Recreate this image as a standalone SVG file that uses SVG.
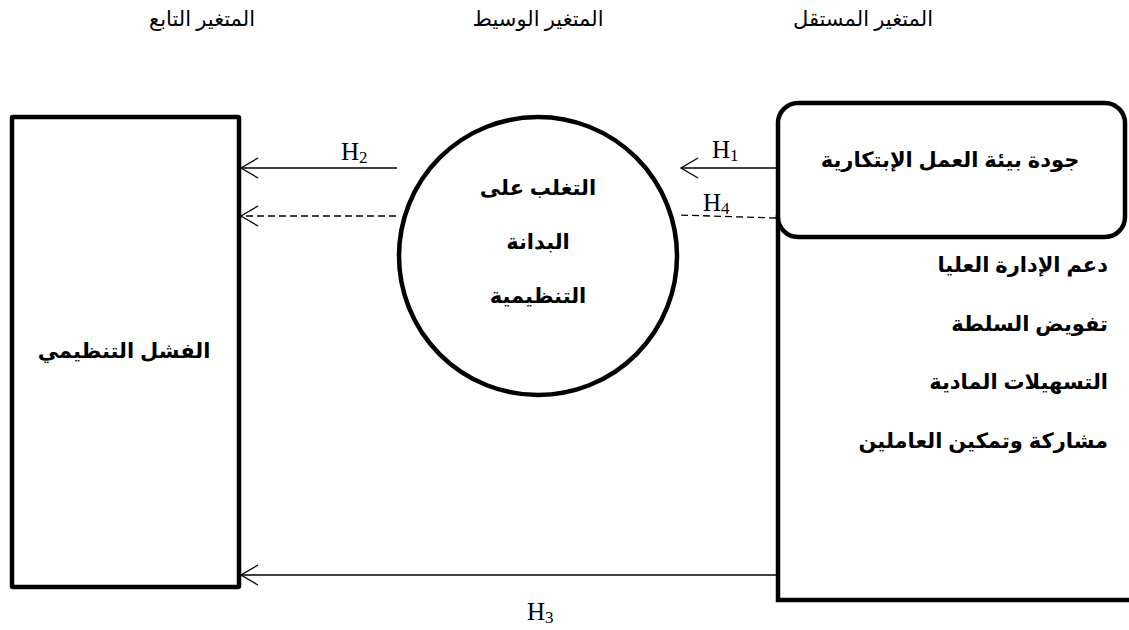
<svg xmlns="http://www.w3.org/2000/svg" width="1129" height="630" viewBox="0 0 1129 630">
<style>
.box{fill:#fff;stroke:#000;stroke-width:4.5}
.lbl{font-family:"Liberation Sans","DejaVu Sans",sans-serif;font-weight:bold;font-size:21px;fill:#000}
.hdr{font-family:"Liberation Serif","DejaVu Sans",serif;font-size:21px;fill:#000}
.h{font-family:"Liberation Serif",serif;font-size:25px;fill:#000}
.sub{font-size:17px}
.ln{stroke:#000;stroke-width:1.3;fill:none}
.dash{stroke-dasharray:7,4}
</style>
<defs>
<marker id="open" viewBox="0 0 20 24" refX="18" refY="12" markerWidth="20" markerHeight="24" markerUnits="userSpaceOnUse" orient="auto">
<path d="M1,2 L18,12 L1,22" fill="none" stroke="#000" stroke-width="1.3"/>
</marker>
</defs>
<g id="headers">
<text class="hdr" x="202" y="26" text-anchor="middle">المتغير التابع</text>
<text class="hdr" x="538" y="26" text-anchor="middle">المتغير الوسيط</text>
<text class="hdr" x="863" y="26" text-anchor="middle">المتغير المستقل</text>
</g>
<g id="dependent">
<rect class="box" x="12" y="117" width="227" height="470" rx="1"/>
<text class="lbl" x="124" y="358" text-anchor="middle">الفشل التنظيمي</text>
</g>
<g id="mediator">
<circle class="box" cx="538" cy="256" r="139" stroke-width="5"/>
<text class="lbl" x="538" y="195" text-anchor="middle">التغلب على</text>
<text class="lbl" x="538" y="249" text-anchor="middle">البدانة</text>
<text class="lbl" x="538" y="303" text-anchor="middle">التنظيمية</text>
</g>
<g id="independent">
<path class="box" fill="none" d="M778,215 V600 H1135"/>
<rect class="box" x="778" y="103" width="347" height="134" rx="20"/>
<text class="lbl" x="950" y="167" text-anchor="middle" font-size="22">جودة بيئة العمل الإبتكارية</text>
<text class="lbl" x="1108" y="272" text-anchor="end">دعم الإدارة العليا</text>
<text class="lbl" x="1108" y="331" text-anchor="end">تفويض السلطة</text>
<text class="lbl" x="1108" y="389" text-anchor="end">التسهيلات المادية</text>
<text class="lbl" x="1108" y="448" text-anchor="end">مشاركة وتمكين العاملين</text>
</g>
<g id="connectors">
<line class="ln" x1="397" y1="168" x2="241" y2="168" marker-end="url(#open)"/>
<line class="ln dash" x1="396" y1="216" x2="241" y2="216" marker-end="url(#open)"/>
<line class="ln" x1="776" y1="168" x2="681" y2="168" marker-end="url(#open)"/>
<line class="ln dash" x1="776" y1="218" x2="678" y2="215"/>
<line class="ln" x1="776" y1="575" x2="241" y2="575" marker-end="url(#open)"/>
<text class="h" x="341" y="160">H<tspan class="sub" dy="3">2</tspan></text>
<text class="h" x="712" y="158">H<tspan class="sub" dy="3">1</tspan></text>
<text class="h" x="703" y="211">H<tspan class="sub" dy="3">4</tspan></text>
<text class="h" x="527" y="620">H<tspan class="sub" dy="3">3</tspan></text>
</g>
</svg>
